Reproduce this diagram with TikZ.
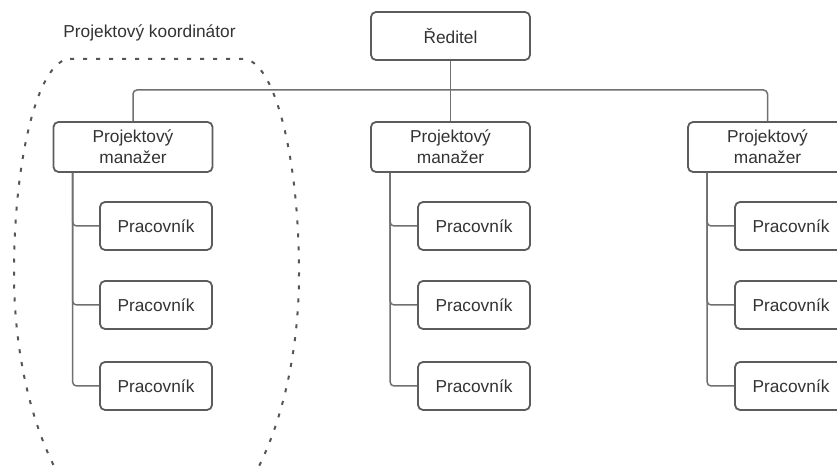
\documentclass[tikz,border=0pt]{standalone}
\usepackage{fontspec}
\setmainfont{Liberation Sans}
\usetikzlibrary{calc}
\definecolor{boxline}{HTML}{5C5C5C}
\definecolor{connline}{HTML}{707070}
\definecolor{txt}{HTML}{333333}
\definecolor{dashline}{HTML}{555555}
\tikzset{
  x=1pt, y=1pt,
  box/.style={draw=boxline, line width=1.8pt, rounded corners=5pt, fill=white,
    inner sep=0pt, align=center, text=txt,
    font=\fontsize{17.3}{21}\selectfont},
  topbox/.style={box, minimum width=159pt, minimum height=48pt},
  pmbox/.style={box, minimum width=159pt, minimum height=50pt},
  workbox/.style={box, minimum width=112pt, minimum height=48pt},
  conn/.style={draw=connline, line width=1.5pt, rounded corners=4pt},
  groupline/.style={draw=dashline, line width=2pt, dash pattern=on 4pt off 9pt},
  label/.style={text=txt, font=\fontsize{17.3}{21}\selectfont, inner sep=0pt}
}
\begin{document}
\begin{tikzpicture}
\useasboundingbox (0,0) rectangle (837,470);
\clip (0,0) rectangle (837,470);
\fill[white] (0,0) rectangle (837,470);

% group outline
\draw[groupline] (70,411) -- (243,411)
  arc[start angle=90, end angle=0, x radius=56, y radius=214]
  arc[start angle=0, end angle=-180, x radius=142.5, y radius=278]
  arc[start angle=180, end angle=90, x radius=56, y radius=214];
\node[label] (lbl) at (149.5,437) {Projektový koordinátor};

% nodes
\node[topbox] (R) at (450.5,434) {Ředitel};
\node[pmbox] (P1) at (133,323) {Projektový\\manažer};
\node[pmbox] (P2) at (450.5,323) {Projektový\\manažer};
\node[pmbox] (P3) at (767.5,323) {Projektový\\manažer};

\foreach \p/\x in {1/156, 2/474, 3/791}{
  \node[workbox] (W\p a) at (\x,244) {Pracovník};
  \node[workbox] (W\p b) at (\x,165) {Pracovník};
  \node[workbox] (W\p c) at (\x,84) {Pracovník};
}

% connectors
\coordinate (J) at (450.5,380);
\draw[conn] (R.south) -- (P2.north);
\draw[conn] (J) -| (P1.north);
\draw[conn] (J) -| (P3.north);

\foreach \p in {1,2,3}{
  \draw[conn] ($(P\p.south west)+(20,0)$) |- (W\p c.west);
  \draw[conn] ($(P\p.south west)+(20,0)$) |- (W\p b.west);
  \draw[conn] ($(P\p.south west)+(20,0)$) |- (W\p a.west);
}
\end{tikzpicture}
\end{document}
